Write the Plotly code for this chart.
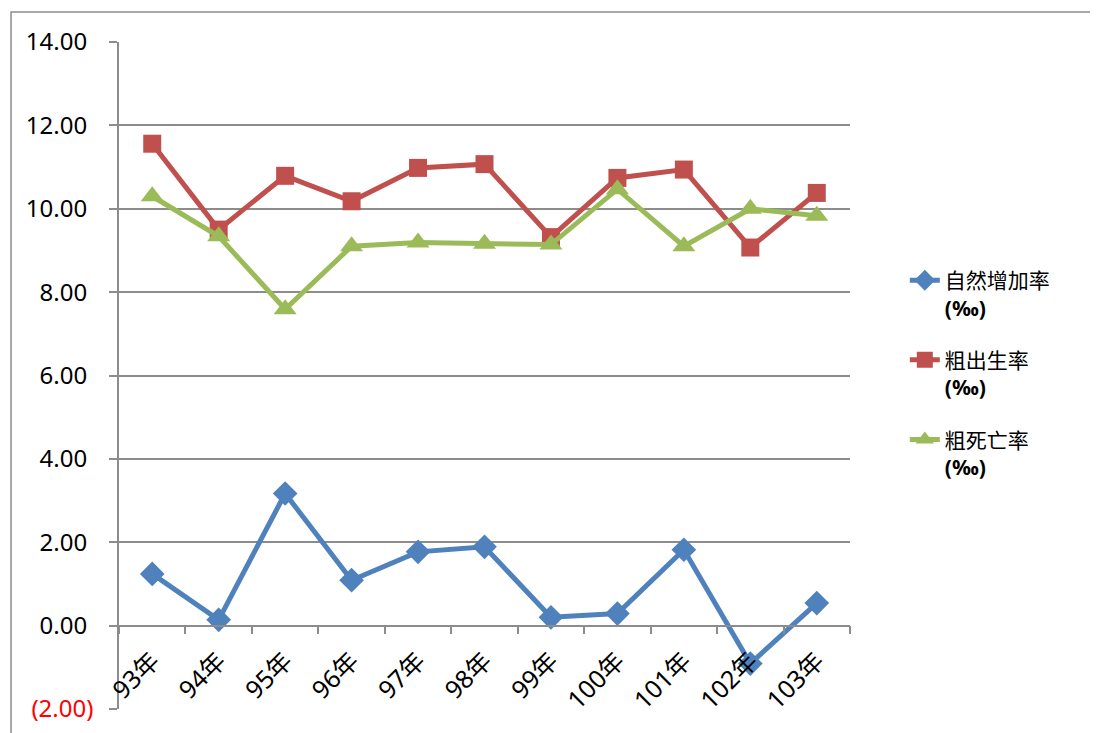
import plotly.graph_objects as go

years = ["93年", "94年", "95年", "96年", "97年", "98年", "99年", "100年", "101年", "102年", "103年"]
natural_increase = [1.24, 0.14, 3.17, 1.09, 1.77, 1.89, 0.20, 0.29, 1.82, -0.91, 0.54]
birth_rate = [11.56, 9.50, 10.79, 10.18, 10.98, 11.07, 9.32, 10.74, 10.94, 9.07, 10.38]
death_rate = [10.30, 9.34, 7.59, 9.10, 9.19, 9.16, 9.14, 10.47, 9.10, 10.00, 9.83]

y_ticks = [-2, 0, 2, 4, 6, 8, 10, 12, 14]
y_labels = ['<span style="color:#ff0000">(2.00)</span>', "0.00", "2.00", "4.00",
            "6.00", "8.00", "10.00", "12.00", "14.00"]
# positive numbers keep room for the closing bracket, as in the accounting format
y_labels = [t if t.startswith("<") else t + "\u00a0" for t in y_labels]

names = ["自然增加率<br><b>(‰)</b>", "粗出生率<br><b>(‰)</b>", "粗死亡率<br><b>(‰)</b>"]
colors = ["#4F81BD", "#C0504D", "#9BBB59"]
symbols = ["diamond", "square", "triangle-up"]
sizes = [19, 18, 20]

fig = go.Figure()
for i, vals in enumerate([natural_increase, birth_rate, death_rate]):
    fig.add_trace(go.Scatter(
        x=years, y=vals, name=names[i], mode="lines+markers",
        legendgroup=str(i),
        line=dict(color=colors[i], width=5),
        marker=dict(symbol=symbols[i], size=sizes[i], color=colors[i]),
    ))

grey = "#8c8c8c"
# the page puts the figure about 8px in from the top-left corner
fig.update_layout(
    width=1098, height=733,
    margin=dict(l=111, r=256, t=34, b=32),
    paper_bgcolor="white", plot_bgcolor="white",
    font=dict(family="Noto Sans, Noto Sans CJK TC", size=20, color="black"),
    showlegend=True,
    legend=dict(x=1.075, y=0.673, xanchor="left", yanchor="top",
                valign="top", tracegroupgap=22, traceorder="grouped",
                font=dict(family="Noto Sans, Noto Sans CJK TC", size=21)),
    xaxis=dict(
        anchor="free", position=0.125, range=[-0.5, 10.5],
        showline=True, linecolor=grey, linewidth=1.5,
        ticks="outside", tickson="boundaries", ticklen=8, tickcolor=grey, tickwidth=1.5,
        tickangle=-45, showgrid=False, ticklabelstandoff=10,
        tickfont=dict(family="Noto Sans, Noto Sans CJK TC", size=25),
    ),
    yaxis=dict(
        range=[-2, 14], tickvals=y_ticks, ticktext=y_labels,
        showline=True, linecolor=grey, linewidth=1.5,
        showgrid=True, gridcolor=grey, gridwidth=1.5, zeroline=False,
        ticks="outside", ticklen=8, tickcolor=grey, tickwidth=1.5,
        ticklabelstandoff=11,
        tickfont=dict(family="Noto Sans", size=24),
    ),
    shapes=[dict(type="rect", xref="paper", yref="paper",
                 x0=-0.1477, y0=1.045, x1=2, y1=-1,
                 line=dict(color=grey, width=1.5))],
)

fig.write_html("out.html")
